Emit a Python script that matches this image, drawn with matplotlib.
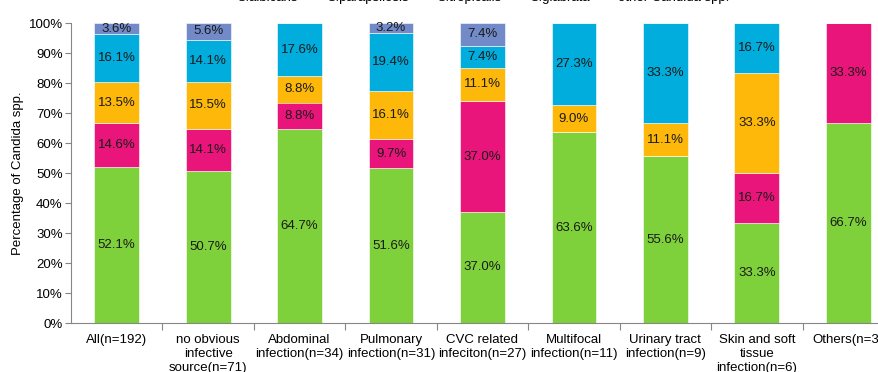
import numpy as np
import matplotlib
matplotlib.use('Agg')
import matplotlib.pyplot as plt
from matplotlib.patches import Patch

plt.rcParams['font.family'] = ['Liberation Sans', 'DejaVu Sans']
plt.rcParams['font.size'] = 9.5

categories = ['All(n=192)', 'no obvious\ninfective\nsource(n=71)', 'Abdominal\ninfection(n=34)',
              'Pulmonary\ninfection(n=31)', 'CVC related\ninfeciton(n=27)', 'Multifocal\ninfection(n=11)',
              'Urinary tract\ninfection(n=9)', 'Skin and soft\ntissue\ninfection(n=6)', 'Others(n=3)']
species = ['C.albicans', 'C.parapsilosis', 'C.tropicalis', 'C.glabrata', 'other Candida spp.']

albicans = [52.1, 50.7, 64.7, 51.6, 37.0, 63.6, 55.6, 33.3, 66.7]
parapsilosis = [14.6, 14.1, 8.8, 9.7, 37.0, 0, 0, 16.7, 33.3]
tropicalis = [13.5, 15.5, 8.8, 16.1, 11.1, 9.0, 11.1, 33.3, 0]
glabrata = [16.1, 14.1, 17.6, 19.4, 7.4, 27.3, 33.3, 16.7, 0]
other = [3.6, 5.6, 0, 3.2, 7.4, 0, 0, 0, 0]

colors = ['#7FD13B', '#EA157A', '#FEB80A', '#00ADDC', '#738AC8']

fig = plt.figure(figsize=(8.79, 3.72), dpi=100)
ax = fig.add_axes([71 / 879, 49 / 372, 823 / 879, 300 / 372])

x = np.arange(len(categories))
bottom = np.zeros(len(categories))
for vals, col in zip([albicans, parapsilosis, tropicalis, glabrata, other], colors):
    vals = np.array(vals, dtype=float)
    ax.bar(x, vals, 0.49, bottom=bottom, color=col, edgecolor='white', linewidth=0.4)
    for xi, b, v in zip(x, bottom, vals):
        if v > 0:
            ax.text(xi, b + v / 2, f'{v:.1f}%', ha='center', va='center', color='#1a1a1a')
    bottom += vals

ax.set_xlim(-0.5, len(categories) - 0.5)
ax.set_ylim(0, 100)
ax.set_yticks(np.arange(0, 101, 10))
ax.set_yticklabels([f'{t}%' for t in range(0, 101, 10)])
ax.set_ylabel('Percentage of Candida spp.', labelpad=3)

ax.set_xticks(x)
ax.set_xticklabels(categories, linespacing=1.2)
ax.set_xticks(np.arange(0.5, len(categories) - 0.5), minor=True)
ax.tick_params(axis='x', which='major', length=0, pad=8)
ax.tick_params(axis='x', which='minor', length=5, color='#868686', width=0.8)
ax.tick_params(axis='y', length=4, color='#868686', width=0.8, pad=2)

for s in ['top', 'right']:
    ax.spines[s].set_visible(False)
for s in ['left', 'bottom']:
    ax.spines[s].set_color('#868686')
    ax.spines[s].set_linewidth(0.8)

# legend sits at the very top edge of the canvas
handles = [Patch(facecolor=c, edgecolor='none') for c in colors]
fig.legend(handles, species, ncol=5, loc='lower left', bbox_to_anchor=(217 / 879, 1 - 11 / 372),
           frameon=False, borderpad=0, handlelength=0.5, handleheight=0.5,
           handletextpad=0.5, columnspacing=1.1)

fig.savefig('out.png', dpi=100)
